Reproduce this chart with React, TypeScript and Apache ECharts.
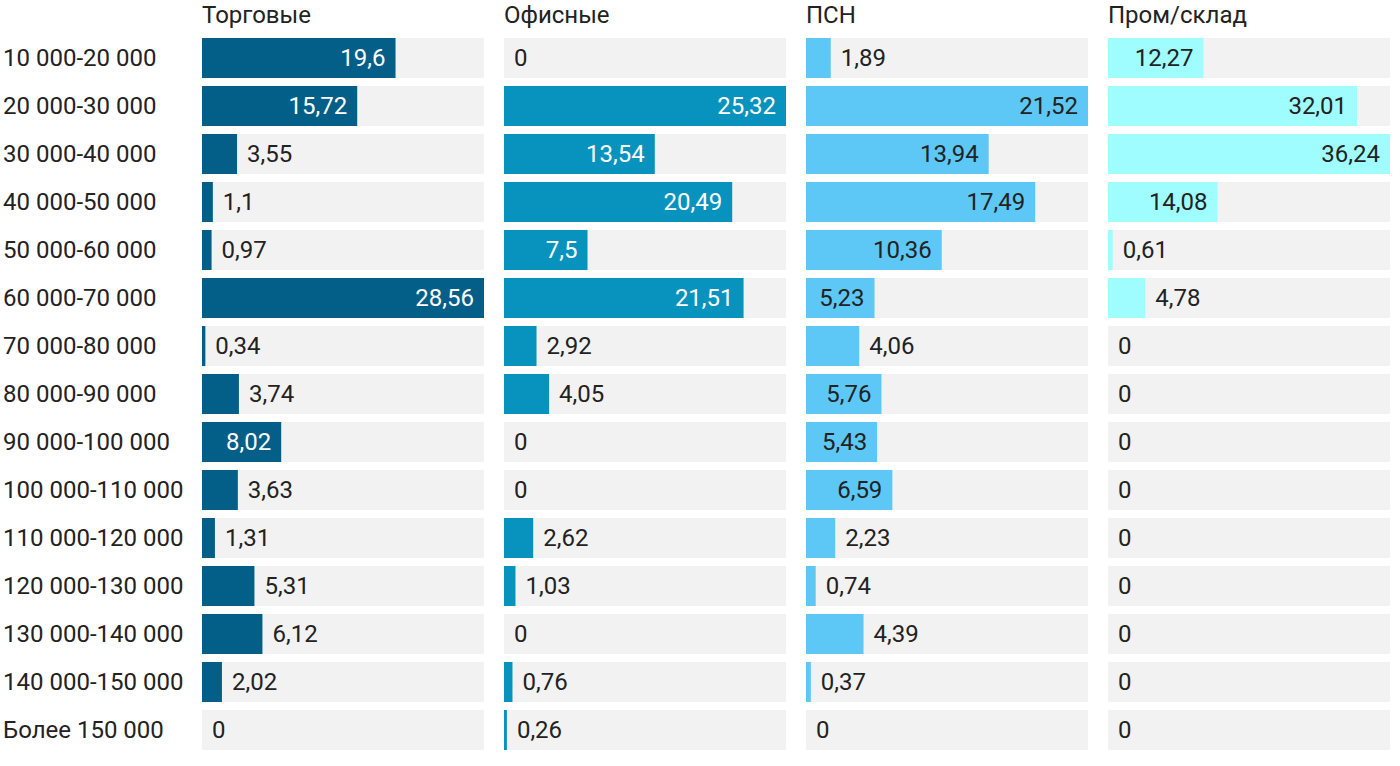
import React, { useEffect, useRef } from "react";
import * as echarts from "echarts";

const categories = [
  "10 000-20 000",
  "20 000-30 000",
  "30 000-40 000",
  "40 000-50 000",
  "50 000-60 000",
  "60 000-70 000",
  "70 000-80 000",
  "80 000-90 000",
  "90 000-100 000",
  "100 000-110 000",
  "110 000-120 000",
  "120 000-130 000",
  "130 000-140 000",
  "140 000-150 000",
  "Более 150 000",
];

const panelTitles = ["Торговые", "Офисные", "ПСН", "Пром/склад"];

const torgovye = [19.6, 15.72, 3.55, 1.1, 0.97, 28.56, 0.34, 3.74, 8.02, 3.63, 1.31, 5.31, 6.12, 2.02, 0];
const ofisnye = [0, 25.32, 13.54, 20.49, 7.5, 21.51, 2.92, 4.05, 0, 0, 2.62, 1.03, 0, 0.76, 0.26];
const psn = [1.89, 21.52, 13.94, 17.49, 10.36, 5.23, 4.06, 5.76, 5.43, 6.59, 2.23, 0.74, 4.39, 0.37, 0];
const promSklad = [12.27, 32.01, 36.24, 14.08, 0.61, 4.78, 0, 0, 0, 0, 0, 0, 0, 0, 0];

const seriesData = [torgovye, ofisnye, psn, promSklad];
const colors = ["#035e88", "#0892be", "#5dc8f5", "#9ffdff"];
const insideTextColors = ["#ffffff", "#ffffff", "#222222", "#222222"];

const PANEL_LEFT = [202, 504, 806, 1108];
const PANEL_W = 282;
const TOP = 34;
const ROW = 48;
const FONT = "Roboto, 'Noto Sans', sans-serif";
const FS = 24;
const DARK = "#222222";

const fmt = (v: number) => String(v).replace(".", ",");

function estWidth(s: string) {
  let w = 0;
  for (const ch of s) w += ch === "," ? 4.8 : 13.5;
  return w;
}

export default function App() {
  const ref = useRef<HTMLDivElement>(null);
  useEffect(() => {
    if (!ref.current) return;
    const chart = echarts.init(ref.current, null, { renderer: "svg" });
    const grids: any[] = [];
    const xAxes: any[] = [];
    const yAxes: any[] = [];
    const series: any[] = [];
    const graphics: any[] = [];
    seriesData.forEach((vals, i) => {
      const max = Math.max(...vals);
      grids.push({ left: PANEL_LEFT[i], width: PANEL_W, top: TOP, height: ROW * categories.length });
      xAxes.push({ type: "value", gridIndex: i, min: 0, max, show: false });
      yAxes.push({
        type: "category",
        gridIndex: i,
        data: categories,
        inverse: true,
        axisLine: { show: false },
        axisTick: { show: false },
        splitLine: { show: false },
        axisLabel: {
          show: i === 0,
          align: "left",
          margin: PANEL_LEFT[0] - 3,
          fontFamily: FONT,
          fontSize: FS,
          color: DARK,
        },
      });
      series.push({
        type: "bar",
        xAxisIndex: i,
        yAxisIndex: i,
        barWidth: 40,
        showBackground: true,
        backgroundStyle: { color: "#f2f2f2" },
        itemStyle: { color: colors[i] },
        data: vals.map((v) => {
          const px = (v / max) * PANEL_W;
          const txt = fmt(v);
          const inside = px >= estWidth(txt) + 20;
          return {
            value: v,
            label: {
              show: true,
              position: inside ? "insideRight" : "right",
              distance: 10,
              formatter: txt,
              fontFamily: FONT,
              fontSize: FS,
              color: inside ? insideTextColors[i] : DARK,
            },
          };
        }),
      });
      graphics.push({
        type: "text",
        left: PANEL_LEFT[i],
        top: 3,
        style: {
          text: panelTitles[i],
          fontFamily: FONT,
          fontSize: FS,
          fill: DARK,
        },
      });
    });
    chart.setOption({
      animation: false,
      backgroundColor: "#ffffff",
      grid: grids,
      xAxis: xAxes,
      yAxis: yAxes,
      series,
      graphic: graphics,
    });
    return () => chart.dispose();
  }, []);
  return (
    <div
      ref={ref}
      style={{ position: "fixed", left: 0, top: 0, width: 1400, height: 766, background: "#fff" }}
    />
  );
}
